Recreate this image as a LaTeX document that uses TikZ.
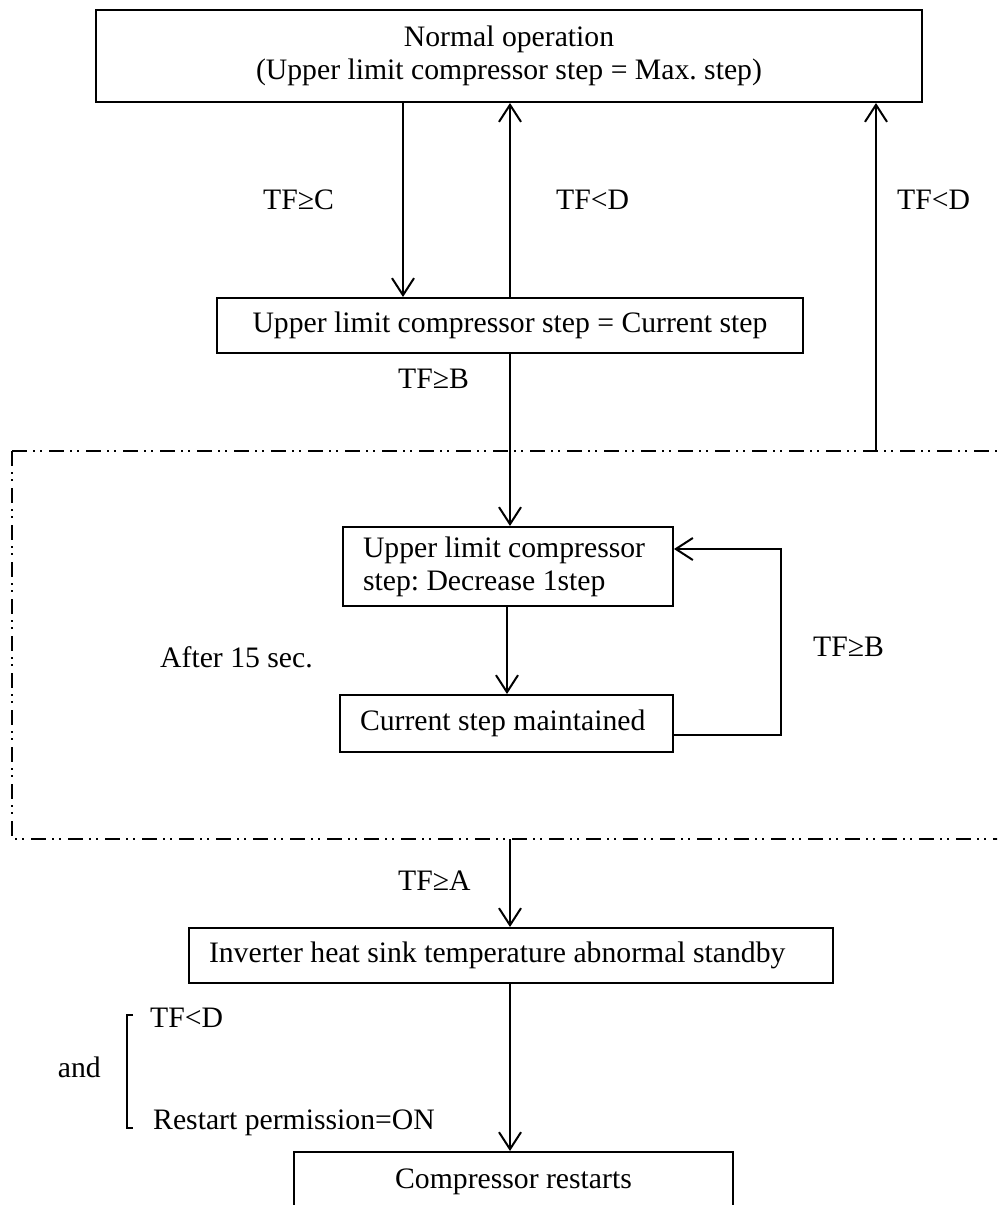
\documentclass[tikz,border=0pt]{standalone}
\usepackage{fontspec}
\setmainfont{Liberation Serif}
\usetikzlibrary{arrows.meta,calc}
\begin{document}
\frenchspacing
\begin{tikzpicture}[x=1pt,y=-1pt,
  every node/.style={font=\fontsize{29.7}{33}\selectfont},
  box/.style={draw,line width=2pt,inner xsep=20pt,inner ysep=0pt},
  arr/.style={line width=2pt,-{Straight Barb[length=17pt,width=22pt,line width=2pt]}},
  lbl/.style={inner sep=0pt,anchor=base west},
  dashdot/.style={line width=2pt,dash pattern=on 15pt off 6pt on 2pt off 5pt on 2pt off 7pt}]
\clip (0,0) rectangle (997,1205);
\fill[white] (0,0) rectangle (997,1205);

% boxes
\node[box,text width=786pt,align=flush center,minimum height=92pt] (n1) at (509,56) {Normal operation\\(Upper limit compressor step = Max. step)};
\node[box,text width=546pt,align=flush center,minimum height=55pt] (n2) at (510,325.5) {Upper limit compressor step = Current step};
\node[box,text width=290pt,align=flush left,minimum height=79pt] (n3) at (508,566.5) {Upper limit compressor\\step: Decrease 1step};
\node[box,text width=293pt,align=flush left,minimum height=57pt] (n4) at (506.5,723.5) {Current step maintained};
\node[box,text width=604pt,align=flush left,minimum height=55pt] (n5) at (511,955.5) {Inverter heat sink temperature abnormal standby};
\node[box,text width=399pt,align=flush center,minimum height=60pt] (n6) at (513.5,1182) {Compressor restarts};

% dash-dot region
\coordinate (dTL) at (12,451);
\coordinate (dBL) at (12,839);
\coordinate (dTR) at (1000,451);
\coordinate (dBR) at (1000,839);
\draw[dashdot] (dTL) -- (dTR);
\draw[dashdot] (dTL) -- (dBL) -- (dBR);

% connectors
\coordinate (xA) at (403,0);
\draw[arr] (xA |- n1.south) -- (xA |- n2.north);
\draw[arr] (n2.north) -- (n2.north |- n1.south);
\coordinate (rA) at (876,451);
\draw[arr] (rA) -- (rA |- n1.south);
\draw[arr] (n2.south) -- (n2.south |- n3.north);
\coordinate (xB) at (507,0);
\draw[arr] (xB |- n3.south) -- (xB |- n4.north);
\coordinate (fb1) at (781,735);
\coordinate (fb2) at (781,549);
\draw[arr] (n4.east |- fb1) -- (fb1) -- (fb2) -- (n3.east |- fb2);
\coordinate (dB) at (510,839);
\draw[arr] (dB) -- (dB |- n5.north);
\draw[arr] (dB |- n5.south) -- (dB |- n6.north);

% bracket
\draw[line width=2pt] (133,1015) -- (127,1015) -- (127,1128) -- (133,1128);

% labels
\node[lbl] (lC) at (263,209) {TF≥C};
\node[lbl] (lD1) at (556,209) {TF<D};
\node[lbl] (lD2) at (897,209) {TF<D};
\node[lbl] (lB1) at (398,388) {TF≥B};
\node[lbl] (lB2) at (813,656) {TF≥B};
\node[lbl] (after) at (160,667) {After 15 sec.};
\node[lbl] (lA) at (398,890) {TF≥A};
\node[lbl] (c1) at (150,1027) {TF<D};
\node[lbl] (c2) at (153,1129) {Restart permission=ON};
\node[lbl,anchor=base east] (and) at (101,1077) {and};
\end{tikzpicture}
\end{document}
